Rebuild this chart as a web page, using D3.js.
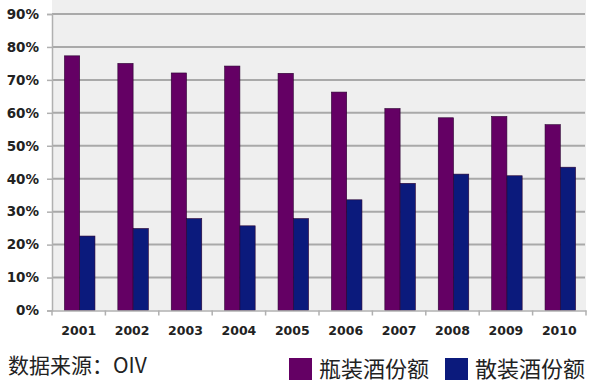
<!DOCTYPE html>
<html><head><meta charset="utf-8">
<script src="https://cdn.jsdelivr.net/npm/d3@7"></script>
<style>body{margin:0;background:#fff}svg{display:block}</style>
</head><body>
<svg id="c" width="600" height="383"></svg>
<script>
const years = ["2001","2002","2003","2004","2005","2006","2007","2008","2009","2010"];
const bottled = [77.3, 75.0, 72.1, 74.2, 72.0, 66.3, 61.3, 58.5, 58.9, 56.4];
const bulk = [22.6, 24.9, 27.9, 25.7, 27.9, 33.6, 38.6, 41.4, 40.9, 43.5];
const yTicks = [0,10,20,30,40,50,60,70,80,90];
const seriesNames = ["瓶装酒份额","散装酒份额"];
const colors = ["#640064","#0b1a7c"];

(function(){
const svg = d3.select("#c");
const left = 52, right = 586, topY = 14, bottom = 310.5;
const x = d3.scaleBand().domain(years).range([left, right]);
const y = d3.scaleLinear().domain([0, 90]).range([bottom, topY]);
const font = "'DejaVu Sans', Verdana, sans-serif";

svg.append("rect").attr("x", left).attr("y", 0).attr("width", right-left).attr("height", bottom).attr("fill", "#efefef");

svg.append("g").selectAll("line").data(yTicks.filter(d=>d>0)).join("line")
  .attr("x1", left).attr("x2", right-1).attr("y1", d=>y(d)).attr("y2", d=>y(d))
  .attr("stroke", "#a9a9a9").attr("stroke-width", 2);

const inner = d3.scaleBand().domain([0,1]).range([0, x.bandwidth()]).paddingInner(0).paddingOuter(0.75);
const g = svg.append("g");
years.forEach((yr, i) => {
  [bottled[i], bulk[i]].forEach((v, k) => {
    g.append("rect").attr("x", x(yr) + inner(k) + 1).attr("width", inner.bandwidth())
      .attr("y", y(v)).attr("height", y(0) - y(v)).attr("fill", colors[k])
      .attr("stroke", "#2a0030").attr("stroke-width", 0.6);
  });
});

const yAxis = svg.append("g").attr("transform", `translate(${left},0)`)
  .call(d3.axisLeft(y).tickValues(yTicks).tickFormat(d => d + "%").tickSize(5).tickPadding(8));
yAxis.select(".domain").attr("stroke", "#b0b0b0").attr("stroke-width", 1.5);
yAxis.selectAll(".tick line").attr("stroke", "#b0b0b0").attr("stroke-width", 1.5);
yAxis.selectAll("text").attr("font-family", font).attr("font-size", 13.5).attr("font-weight", "bold").attr("fill", "#222");

const xAxis = svg.append("g").attr("transform", `translate(0,${bottom})`)
  .call(d3.axisBottom(x).tickSize(0).tickPadding(16));
xAxis.select(".domain").attr("stroke", "#b0b0b0").attr("stroke-width", 1.5);
xAxis.selectAll("text").attr("font-family", font).attr("font-size", 12.5).attr("font-weight", "bold").attr("fill", "#222");
svg.append("g").selectAll("line").data(years.concat(["end"])).join("line")
  .attr("x1", (d,i) => left + i * x.bandwidth()).attr("x2", (d,i) => left + i * x.bandwidth())
  .attr("y1", bottom).attr("y2", bottom + 5).attr("stroke", "#b0b0b0").attr("stroke-width", 1.5);

svg.append("text").attr("x", 8).attr("y", 373).attr("font-family", "'Noto Sans CJK SC', sans-serif")
  .attr("font-size", 21).attr("fill", "#222").text("数据来源：OIV");

const lg = svg.append("g");
[[289, 0], [445, 1]].forEach(([lx, k]) => {
  lg.append("rect").attr("x", lx).attr("y", 358).attr("width", 23).attr("height", 22).attr("fill", colors[k]);
  lg.append("text").attr("x", lx + 30).attr("y", 377).attr("font-family", "'Noto Sans CJK SC', sans-serif")
    .attr("font-size", 22).attr("fill", "#222").text(seriesNames[k]);
});
})();
</script>
</body></html>
